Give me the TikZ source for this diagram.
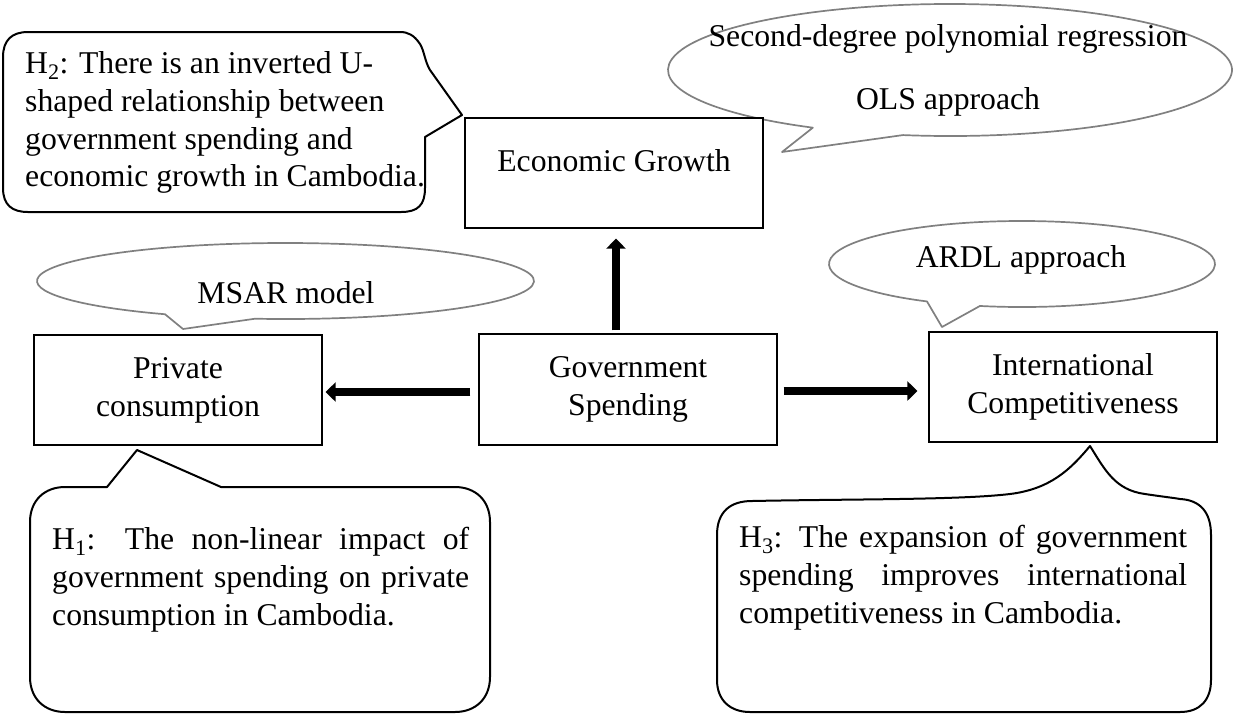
\documentclass[tikz,border=0pt]{standalone}
\usepackage{fontspec}
\setmainfont{Liberation Serif}
\usetikzlibrary{arrows.meta}
\definecolor{bubblegray}{RGB}{128,128,128}
\hyphenpenalty=10000
\exhyphenpenalty=10000
\begin{document}
\begin{tikzpicture}[x=1pt,y=1pt,
  every node/.style={font=\fontsize{31.7}{38}\selectfont},
  box/.style={draw=black, line width=1.2pt, fill=white, inner sep=0pt},
  callout/.style={draw=black, line width=2pt, fill=white, line join=round},
  bubble/.style={draw=bubblegray, line width=1.7pt, fill=white, line join=round},
  arr/.style={line width=8.5pt, -{Triangle[length=10pt,width=19pt]}},
  txt/.style={inner sep=0pt}
]
\useasboundingbox (0,0) rectangle (1234,-716);

% method bubbles
\draw[bubble] (950,-70) ++(260.4:282 and 66) arc[start angle=260.4, end angle=600.9, x radius=282, y radius=66] -- (782,-152) -- cycle;
\draw[bubble] (285.5,-281) ++(262.95:248.5 and 38) arc[start angle=262.95, end angle=601.0, x radius=248.5, y radius=38] -- (183,-329) -- cycle;
\draw[bubble] (1022,-264) ++(257.4:193 and 43) arc[start angle=257.4, end angle=600.5, x radius=193, y radius=43] -- (942,-327) -- cycle;

% hypothesis callouts
\draw[callout] (3,-57) -- (3,-188) .. controls (3,-205) and (12,-212) .. (28,-212) -- (401,-212)
  .. controls (418,-212) and (425,-205) .. (425,-188) -- (425,-137) -- (462,-115) -- (430,-70)
  .. controls (425,-62) and (424,-50) .. (420,-44) .. controls (414,-35) and (408,-32) .. (400,-32)
  -- (28,-32) .. controls (12,-32) and (3,-40) .. (3,-57) -- cycle;
\draw[callout] (65,-487) -- (107,-487) -- (137,-450) -- (221,-487) -- (455,-487)
  .. controls (475,-487) and (490,-500) .. (490,-522) -- (490,-677)
  .. controls (490,-699) and (475,-712) .. (455,-712) -- (65,-712)
  .. controls (45,-712) and (30,-699) .. (30,-677) -- (30,-522)
  .. controls (30,-500) and (45,-487) .. (65,-487) -- cycle;
\draw[callout] (752,-501) .. controls (850,-499) and (960,-500) .. (1010,-494)
  .. controls (1050,-489) and (1070,-470) .. (1090,-446)
  .. controls (1105,-470) and (1115,-490) .. (1145,-494)
  .. controls (1165,-497) and (1175,-498) .. (1180,-499)
  .. controls (1200,-500) and (1211,-512) .. (1211,-535) -- (1211,-680)
  .. controls (1211,-700) and (1200,-712) .. (1180,-712) -- (750,-712)
  .. controls (730,-712) and (717,-700) .. (717,-680) -- (717,-535)
  .. controls (717,-512) and (730,-501) .. (752,-501) -- cycle;

% boxes
\node[box, minimum width=298pt, minimum height=110pt, text height=21.7pt, text depth=24pt] (econ) at (614,-173) {Economic Growth};
\node[box, align=center, minimum width=298pt, minimum height=111pt] (gov) at (628,-389.5) {Government\\Spending};
\node[box, align=center, minimum width=288pt, minimum height=110pt] (priv) at (178,-390) {Private\\consumption};
\node[box, align=center, minimum width=288pt, minimum height=110pt] (intl) at (1073,-387) {International\\Competitiveness};

% arrows
\draw[arr, shorten <=3pt, shorten >=10pt] ([xshift=-12pt]gov.north) -- ([xshift=2pt]econ.south);
\draw[arr, shorten <=8pt, shorten >=3pt] ([yshift=-2.5pt]gov.west) -- ([yshift=-2pt]priv.east);
\draw[arr, shorten <=6pt, shorten >=11pt] ([yshift=-1.5pt]gov.east) -- ([yshift=-4pt]intl.west);

% texts
\node[txt, anchor=north, align=center, font=\fontsize{31.7}{63}\selectfont] (olst) at (948,-24.3) {Second-degree polynomial regression\\OLS approach};
\node[txt, anchor=base] (msart) at (286,-303) {MSAR model};
\node[txt, anchor=base] (ardlt) at (1021,-267) {ARDL approach};
\node[txt, anchor=north west, align=left, font=\fontsize{31.7}{37.7}\selectfont] (h2t) at (25,-51.5) {H\textsubscript{2}: There is an inverted U-\\shaped relationship between\\government spending and\\economic growth in Cambodia.};
\node[txt, anchor=north west, text width=417pt, align=justify, font=\fontsize{31.7}{38}\selectfont] (h1t) at (52,-527) {H\textsubscript{1}: The non-linear impact of\linebreak government spending on private\linebreak consumption in Cambodia.};
\node[txt, anchor=north west, text width=448pt, align=justify, font=\fontsize{31.7}{38}\selectfont] (h3t) at (739,-524.5) {H\textsubscript{3}: The expansion of government\linebreak spending improves international\linebreak competitiveness in Cambodia.};
\end{tikzpicture}
\end{document}
